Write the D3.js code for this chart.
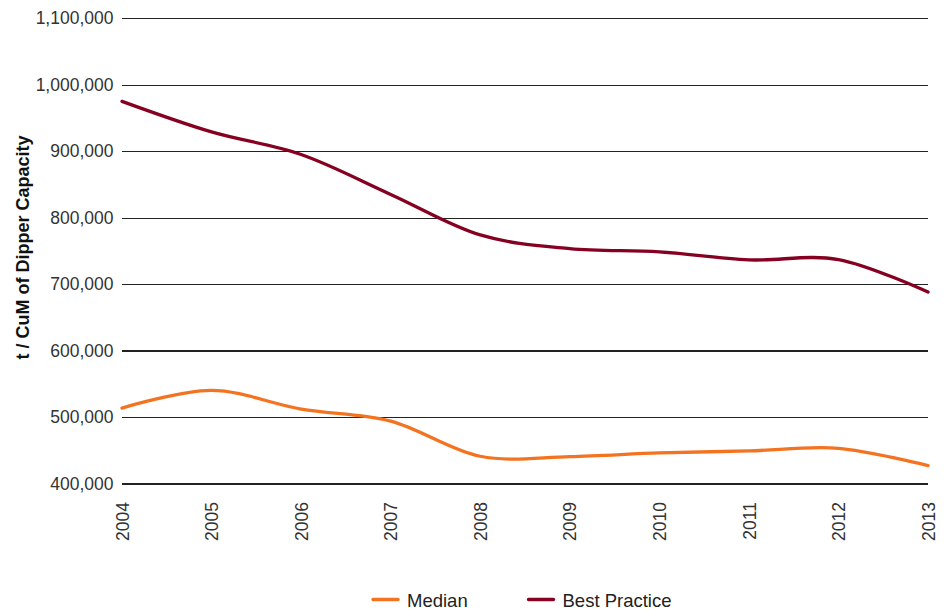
<!DOCTYPE html>
<html><head><meta charset="utf-8">
<script src="https://cdn.jsdelivr.net/npm/d3@7"></script>
<style>body{margin:0;background:#fff}svg{display:block}</style>
</head><body>
<svg id="c" width="944" height="611"></svg>
<script>
const years = [2004,2005,2006,2007,2008,2009,2010,2011,2012,2013];
const median = [513500,540000,512000,494000,441000,440500,446000,449000,453000,427000];
const bestPractice = [975000,929000,895000,835000,774000,753500,748500,736500,737000,688000];
const yTicks = [400000,500000,600000,700000,800000,900000,1000000,1100000];
const seriesNames = ["Median","Best Practice"];
const colors = ["#f47321","#850021"];

const svg = d3.select("#c");
const x = d3.scaleLinear().domain([2004,2013]).range([122,928]);
const y = d3.scaleLinear().domain([400000,1100000]).range([483.5,18.3]);
const font = "'Liberation Sans', Arial, Helvetica, sans-serif";

// gridlines + y labels
const yAxis = d3.axisLeft(y).tickValues(yTicks).tickSize(-(928-122)).tickPadding(8.5)
  .tickFormat(d3.format(","));
const gy = svg.append("g").attr("transform","translate(122,0)").call(yAxis);
gy.select(".domain").remove();
gy.selectAll(".tick line").attr("stroke","#222").attr("stroke-width",1.2).attr("shape-rendering","crispEdges");
gy.selectAll(".tick text").attr("font-family",font).attr("font-size",17.5).attr("fill","#333");

// x labels
const xAxis = d3.axisBottom(x).tickValues(years).tickSize(0).tickFormat(d3.format("d"));
const gx = svg.append("g").attr("transform","translate(0,483.5)").call(xAxis);
gx.select(".domain").remove();
gx.selectAll(".tick text").attr("font-family",font).attr("font-size",17.5).attr("fill","#333")
  .attr("transform","rotate(-90)").attr("text-anchor","end").attr("dx","-18.5").attr("dy","0.35em").attr("y",0).attr("x",0);

// y title
svg.append("text").attr("transform","translate(29,247.5) rotate(-90)").attr("text-anchor","middle")
  .attr("font-family",font).attr("font-weight","bold").attr("font-size",18).attr("fill","#111")
  .text("t / CuM of Dipper Capacity");

const line = d3.line().x((d,i)=>x(years[i])).y(d=>y(d)).curve(d3.curveCardinal.tension(0));
[median,bestPractice].forEach((s,k)=>{
  svg.append("path").attr("d",line(s)).attr("fill","none").attr("stroke",colors[k])
    .attr("stroke-width",3.3).attr("stroke-linecap","round");
});

// legend
const leg = [{x:373,t:seriesNames[0],c:colors[0]},{x:528.5,t:seriesNames[1],c:colors[1]}];
leg.forEach(l=>{
  svg.append("line").attr("x1",l.x).attr("x2",l.x+25).attr("y1",599.5).attr("y2",599.5)
    .attr("stroke",l.c).attr("stroke-width",3.3).attr("stroke-linecap","round");
  svg.append("text").attr("x",l.x+34).attr("y",606.5).attr("font-family",font).attr("font-size",18.5)
    .attr("fill","#222").text(l.t);
});
</script>
</body></html>
